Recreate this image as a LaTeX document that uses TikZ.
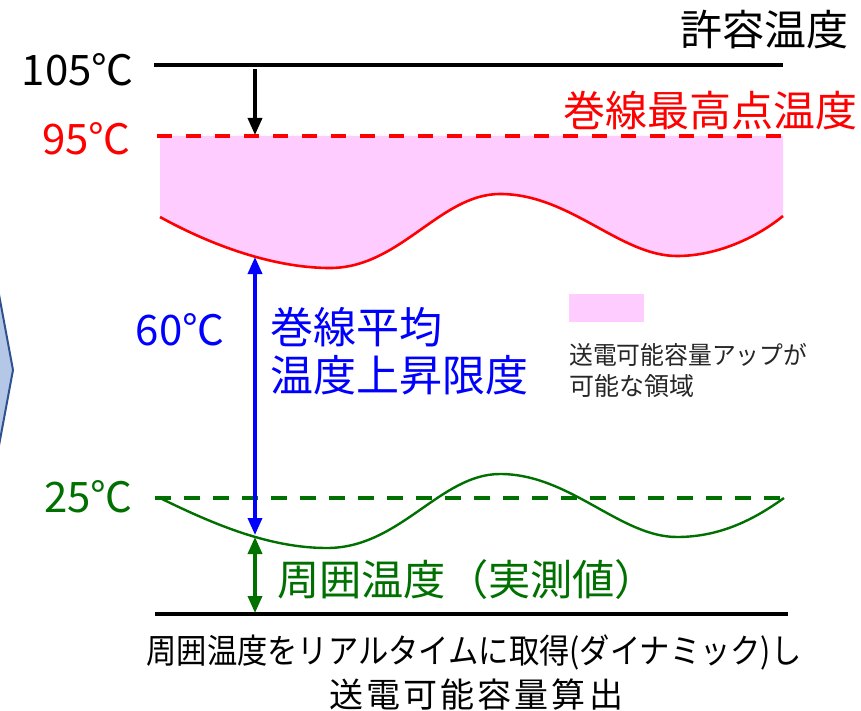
\documentclass[tikz,border=0pt]{standalone}
\usepackage{fontspec}
\usepackage{graphicx}
\setmainfont{Noto Sans CJK JP}
\usetikzlibrary{arrows.meta}
\definecolor{pinkfill}{HTML}{FFCCFF}
\definecolor{dgreen}{HTML}{007000}
\definecolor{pureblue}{HTML}{0000FF}
\definecolor{purered}{HTML}{FF0000}
\definecolor{chevfill}{HTML}{B4C7E7}
\definecolor{chevline}{HTML}{2F528F}
\tikzset{
  bigtxt/.style={inner sep=0pt, font=\fontsize{42pt}{48pt}\selectfont},
  midtxt/.style={inner sep=0pt, font=\fontsize{34pt}{40pt}\selectfont},
  smalltxt/.style={inner sep=0pt, font=\fontsize{25pt}{30pt}\selectfont, text=black!85},
  tipA/.style={-{Triangle[length=17pt,width=14pt]}},
  tipB/.style={{Triangle[length=17pt,width=14pt]}-{Triangle[length=17pt,width=14pt]}},
}
\begin{document}
\begin{tikzpicture}[x=1pt,y=-1pt]
\useasboundingbox (0,0) rectangle (861,711);
% partial chevron at left edge
\begin{scope}
  \clip (0,0) rectangle (861,711);
  \draw[fill=chevfill, draw=chevline, line width=2pt, line join=miter]
    (-30,139) -- (-5,273) -- (13,370) -- (-5,467) -- (-30,600) -- cycle;
\end{scope}
% pink region
\fill[pinkfill] (160,136) -- (160,217) .. controls (220,250) and (280,268) .. (330,268)
  .. controls (400,268) and (440,194) .. (500,194)
  .. controls (570,194) and (620,256) .. (677,256)
  .. controls (720,256) and (760,235) .. (783,216) -- (783,136) -- cycle;
% red curve
\draw[purered, line width=2.6pt] (160,217) .. controls (220,250) and (280,268) .. (330,268)
  .. controls (400,268) and (440,194) .. (500,194)
  .. controls (570,194) and (620,256) .. (677,256)
  .. controls (720,256) and (760,235) .. (783,216);
% red dashed line
\coordinate (rdL) at (157,136);
\coordinate (rdR) at (783,136);
\draw[purered, line width=4pt, dash pattern=on 15pt off 14pt] (rdL) -- (rdR);
% top black line
\coordinate (tlL) at (154,65);
\coordinate (tlR) at (783,65);
\draw[black, line width=4pt] (tlL) -- (tlR);
% green curve
\draw[dgreen, line width=2.4pt] (160,498) .. controls (215,525) and (270,548) .. (327,548)
  .. controls (400,548) and (440,474) .. (500,474)
  .. controls (570,474) and (620,537) .. (677,537)
  .. controls (725,537) and (760,515) .. (784,498);
% green dashed line
\coordinate (gdL) at (155,498);
\coordinate (gdR) at (784,498);
\draw[dgreen, line width=3.2pt, dash pattern=on 16pt off 13pt] (gdL) -- (gdR);
% bottom black line
\coordinate (blL) at (155,614);
\coordinate (blR) at (788,614);
\draw[black, line width=4.5pt] (blL) -- (blR);
% arrows
\coordinate (aTop) at (255,69);
\coordinate (aBot) at (255,135);
\draw[black, line width=3.5pt, tipA] (aTop) -- (aBot);
\coordinate (bTop) at (255,257);
\coordinate (bBot) at (255,535);
\draw[pureblue, line width=3.5pt, tipB] (bTop) -- (bBot);
\coordinate (gTop) at (255,537);
\coordinate (gBot) at (255,613);
\draw[dgreen, line width=3.5pt, tipB] (gTop) -- (gBot);
% legend swatch
\fill[pinkfill] (569,294) rectangle (644,322);
\coordinate (legsw) at (606,308);
% texts
\node[bigtxt, anchor=east] (t105) at (134,70) {105℃};
\node[bigtxt, anchor=east, text=purered] (t95) at (131,139) {95℃};
\node[bigtxt, anchor=east, text=dgreen] (t25) at (133,497) {25℃};
\node[bigtxt, anchor=east] (tallow) at (849,30) {許容温度};
\node[bigtxt, anchor=east, text=purered] (tcoil) at (858,110.5) {巻線最高点温度};
\node[bigtxt, text=pureblue] (t60) at (180,330) {60℃};
\node[bigtxt, anchor=west, text=pureblue, font=\fontsize{43pt}{48pt}\selectfont] (tavg1) at (270,327.5) {巻線平均};
\node[bigtxt, anchor=west, text=pureblue, font=\fontsize{43pt}{48pt}\selectfont] (tavg2) at (270,375.5) {温度上昇限度};
\node[bigtxt, anchor=west, text=dgreen] (tamb) at (277,579.5) {\resizebox{380pt}{\height}{周囲温度（実測値）}};
\node[smalltxt, anchor=west] (leg1) at (569,354.5) {\resizebox{238pt}{\height}{送電可能容量アップが}};
\node[smalltxt, anchor=west] (leg2) at (569,386) {可能な領域};
\node[midtxt] (tb1) at (474,652) {\resizebox{655pt}{\height}{周囲温度をリアルタイムに取得(ダイナミック)し}};
\node[midtxt] (tb2) at (476,695) {\makebox[294pt][s]{送\hfill 電\hfill 可\hfill 能\hfill 容\hfill 量\hfill 算\hfill 出}};
\end{tikzpicture}
\end{document}
